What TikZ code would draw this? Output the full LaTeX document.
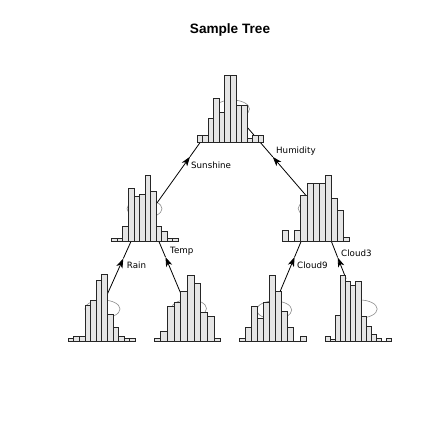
\documentclass[tikz,border=0pt]{standalone}
\usepackage{fontspec}
\setmainfont{Liberation Sans}
\newfontfamily\lblfont{DejaVu Sans}
\usepackage{tikz}
\usetikzlibrary{arrows.meta}

% left x, base y, bin width, bar heights
\newcommand{\drawhist}[4]{%
  \foreach \h [count=\i from 0] in {#4}
    \filldraw[binbar] ({#1+\i*#3},#2) rectangle ++(#3,-\h);
}

\begin{document}
\begin{tikzpicture}[x=1pt, y=-1pt,
    binbar/.style={fill=black!10, draw=black!85, line width=0.75pt},
    selfloop/.style={draw=black!45, line width=0.6pt},
    link/.style={line width=0.8pt},
    midtip/.style={-{Stealth[length=9.5pt, width=6.5pt, inset=2.6pt]}},
    lbl/.style={font=\lblfont\fontsize{8.7}{10}\selectfont, anchor=west, inner sep=0pt}]
  \fill[white] (0,0) rectangle (432,432);
  \useasboundingbox (0,0) rectangle (432,432);

  \node[font=\bfseries\fontsize{13.6}{16}\selectfont] (title) at (230,30) {Sample Tree};

  \draw[selfloop] (232,109) ellipse (17.5 and 9);
  \draw[selfloop] (144.5,208.7) ellipse (17.5 and 9);
  \draw[selfloop] (315.7,208.5) ellipse (17.5 and 9);
  \draw[selfloop] (102.5,309) ellipse (17.5 and 9);
  \draw[selfloop] (189,308.5) ellipse (17.5 and 9);
  \draw[selfloop] (274.2,310) ellipse (17.5 and 9);
  \draw[selfloop] (359.7,309) ellipse (17.5 and 9);

  % edge ends: a = parent, t = arrow tip, b = child
  \coordinate (sun-a) at (205,135.6);
  \coordinate (sun-t) at (190,156.7);
  \coordinate (sun-b) at (155,205.7);
  \coordinate (hum-a) at (240,118.9);
  \coordinate (hum-t) at (272.7,156.8);
  \coordinate (hum-b) at (307,196.6);
  \coordinate (rain-a) at (132.1,239);
  \coordinate (rain-t) at (123.3,258.5);
  \coordinate (rain-b) at (106,297.1);
  \coordinate (temp-a) at (158,239.3);
  \coordinate (temp-t) at (165.5,257.1);
  \coordinate (temp-b) at (182,296.4);
  \coordinate (c9-a) at (302.2,238.8);
  \coordinate (c9-t) at (294.6,257);
  \coordinate (c9-b) at (278,296.5);
  \coordinate (c3-a) at (331,240.4);
  \coordinate (c3-t) at (337.7,257.5);
  \coordinate (c3-b) at (346,278.5);

  \foreach \e in {sun,hum,rain,temp,c9,c3} {
    \draw[link, midtip] (\e-b) -- (\e-t);
    \draw[link] (\e-t) -- (\e-a);
  }

  \drawhist{197}{142}{5.56}{6.7,6.7,23.7,43.7,29.7,67,67,37,37,3.7,6.7,6.7}
  \drawhist{111.7}{241.7}{5.55}{3.3,3.3,15.7,53.3,45,47.7,66.7,50.7,15.7,10,3.3,3.3}
  \drawhist{282.7}{241.7}{6.05}{11.7,0,11.7,46.7,58.4,58.4,58.4,66.7,43.4,31.7,4}
  \drawhist{68.2}{341.7}{5.6}{3.4,5.7,5.7,36.7,41.7,61.7,67,27.7,14.4,5.7,3.4,3.4}
  \drawhist{154}{341.7}{6.67}{3.4,10,35,39,50.7,66.7,58.4,29,25.7,3.4}
  \drawhist{239.3}{341.7}{6.06}{3.4,14.4,35,23.4,39,66.7,50,30,14.4,0,5.7}
  \drawhist{325}{341.7}{5.13}{5,2.7,26.7,66.7,60,56.7,60,25,15.7,7.4,3.4,0,3.4}

  \node[lbl] (sun-lbl) at (191,165) {Sunshine};
  \node[lbl] (hum-lbl) at (276,150.7) {Humidity};
  \node[lbl] (rain-lbl) at (126.7,265) {Rain};
  \node[lbl] (temp-lbl) at (170,251.7) {Temp};
  \node[lbl] (c9-lbl) at (297,265) {Cloud9};
  \node[lbl] (c3-lbl) at (341,253) {Cloud3};
\end{tikzpicture}
\end{document}
